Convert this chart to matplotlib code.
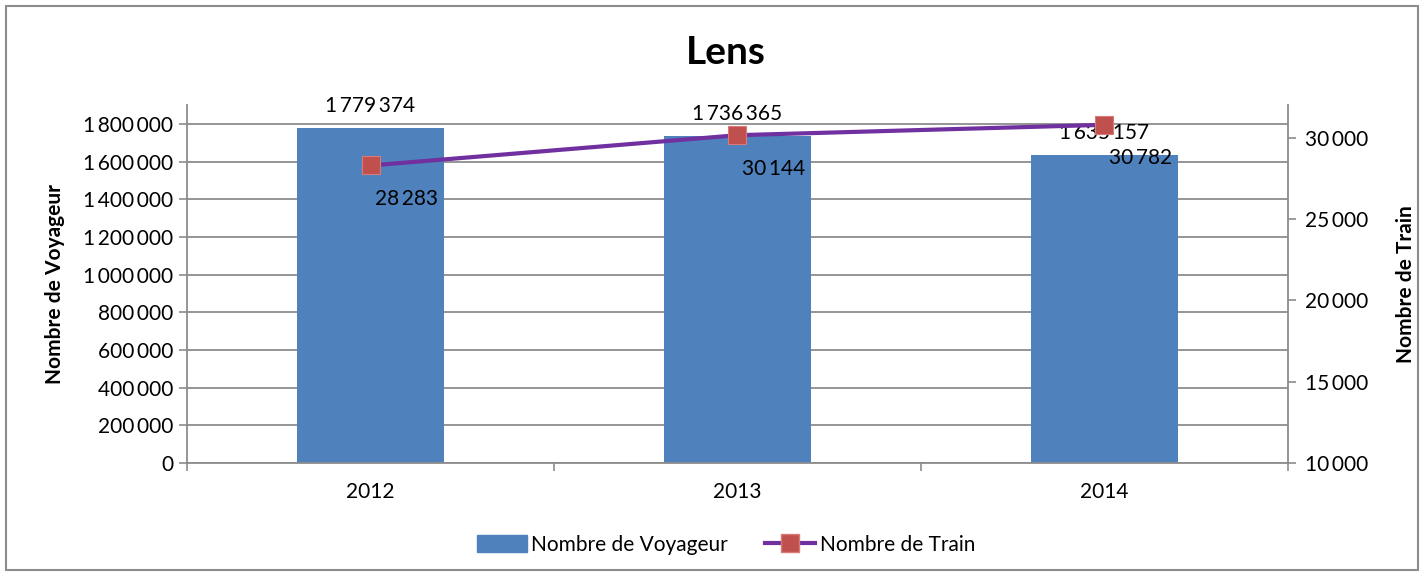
import matplotlib
matplotlib.use("Agg")
import matplotlib.pyplot as plt
from matplotlib.patches import Rectangle
from matplotlib.lines import Line2D
from matplotlib.ticker import FuncFormatter, MultipleLocator

years = ["2012", "2013", "2014"]
voyageurs = [1779374, 1736365, 1635157]
trains = [28283, 30144, 30782]

BAR = "#4F81BD"
LINE = "#7030A0"
MARK = "#C0504D"
GRID = "#8C8C8C"
FS = 15

plt.rcParams["font.family"] = ["Lato", "DejaVu Sans"]


def fmt(v, pos=None):
    # thin space as thousands separator, like the original
    return f"{int(round(v)):,}".replace(",", "\u2009")


fig = plt.figure(figsize=(14.25, 5.76), dpi=100)
fig.patches.append(Rectangle((6 / 1425, 6 / 576), 1412 / 1425, 564 / 576,
                             transform=fig.transFigure, fill=False,
                             edgecolor="#8C8C8C", linewidth=1.5))

ax = fig.add_axes([187 / 1425, (576 - 463) / 576, 1101 / 1425, 358 / 576])
x = range(len(years))
ax.bar(x, voyageurs, width=0.4, color=BAR, zorder=2)
ax.set_xlim(-0.5, 2.5)
ax.set_ylim(0, 1900000)
ax.yaxis.set_major_locator(MultipleLocator(200000))
ax.yaxis.set_major_formatter(FuncFormatter(fmt))
ax.set_xticks(list(x))
ax.set_xticklabels(years)
ax.set_xticks([-0.5, 0.5, 1.5, 2.5], minor=True)
ax.tick_params(axis="x", which="major", length=0, labelsize=FS, pad=14)
ax.tick_params(axis="x", which="minor", length=6, color=GRID, width=1.2)
ax.tick_params(axis="y", length=6, color=GRID, width=1.2, labelsize=FS, pad=4)
ax.grid(axis="y", color=GRID, linewidth=1.3, zorder=0)
for s in ["top", "right"]:
    ax.spines[s].set_visible(False)
for s in ["left", "bottom"]:
    ax.spines[s].set_color(GRID)
    ax.spines[s].set_linewidth(1.3)
ax.set_ylabel("Nombre de Voyageur", fontsize=15, fontweight="bold", labelpad=13)

for xi, v in zip(x, voyageurs):
    ax.annotate(fmt(v), (xi, v), xytext=(0, 16), textcoords="offset points",
                ha="center", va="center", fontsize=FS, zorder=3)

ax2 = ax.twinx()
ax2.plot(list(x), trains, color=LINE, linewidth=3, marker="s", markersize=13,
         markerfacecolor=MARK, markeredgecolor="#D77A78", markeredgewidth=0.8,
         zorder=4)
ax2.set_ylim(10000, 32000)
ax2.yaxis.set_major_locator(MultipleLocator(5000))
ax2.yaxis.set_major_formatter(FuncFormatter(fmt))
ax2.tick_params(axis="y", length=6, color=GRID, width=1.2, labelsize=FS, pad=6)
for s in ["top", "left", "bottom"]:
    ax2.spines[s].set_visible(False)
ax2.spines["right"].set_color(GRID)
ax2.spines["right"].set_linewidth(1.3)
ax2.set_ylabel("Nombre de Train", fontsize=15, fontweight="bold",
               rotation=90, labelpad=20)

for xi, v in zip(x, trains):
    ax2.annotate(fmt(v), (xi, v), xytext=(26, -24), textcoords="offset points",
                 ha="center", va="center", fontsize=FS, zorder=5)

fig.text(726 / 1425, 1 - 52 / 576, "Lens", ha="center", va="center",
         fontsize=28, fontweight="bold")

handles = [Rectangle((0, 0), 1, 1, color=BAR),
           Line2D([], [], color=LINE, linewidth=3, marker="s", markersize=13,
                  markerfacecolor=MARK, markeredgecolor="#D77A78")]
fig.legend(handles, ["Nombre de Voyageur", "Nombre de Train"],
           loc="center", bbox_to_anchor=(726 / 1425, 1 - 545 / 576), ncol=2,
           frameon=False, fontsize=FS, handlelength=2.4, handleheight=0.9,
           handletextpad=0.2, columnspacing=1.8)

fig.savefig("out.png", dpi=100)
